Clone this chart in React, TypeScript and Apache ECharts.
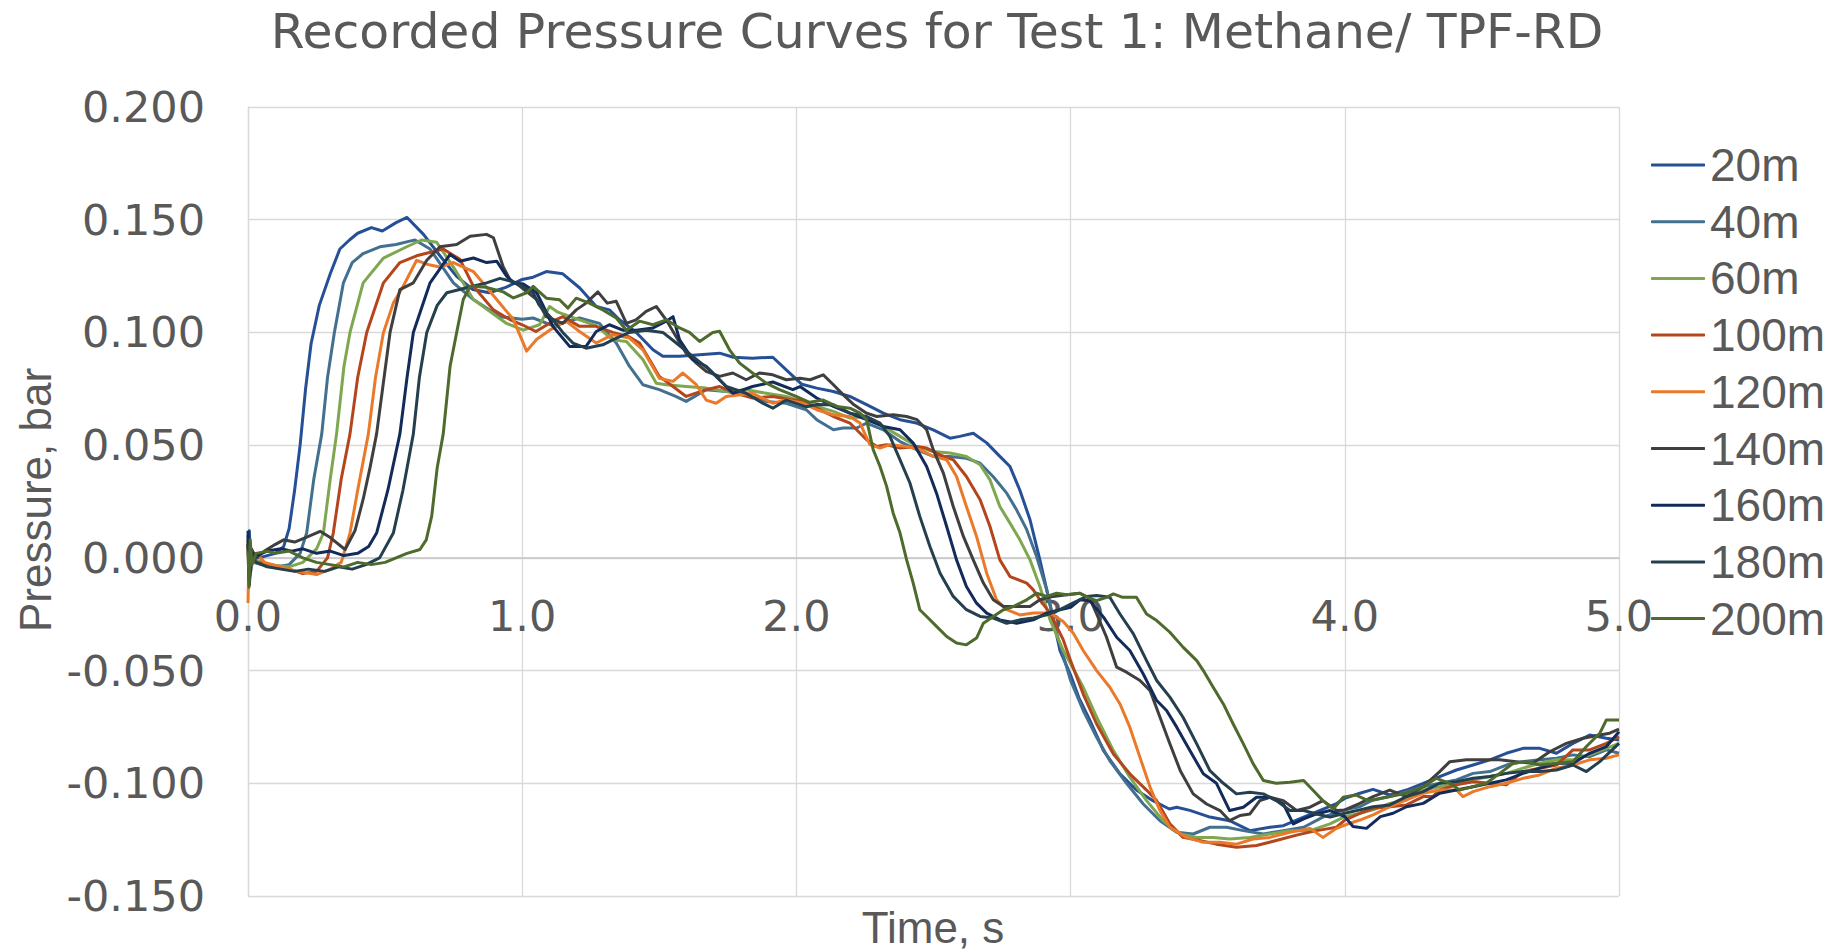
import React, { useEffect, useRef } from "react";
import * as echarts from "echarts";

const seriesNames = ["20m", "40m", "60m", "100m", "120m", "140m", "160m", "180m", "200m"];
const seriesColors = ["#255096", "#43708f", "#7ea74f", "#b4461e", "#ea7a2a", "#3f3f3f", "#132b5a", "#24404f", "#4e6a2c"];
const xTicks = { min: 0, max: 5, step: 1 };
const yTicks = { min: -0.15, max: 0.2, step: 0.05 };

const s20: [number, number][] = [[0,0.004],[0.005,0.012],[0.01,-0.006],[0.02,0.002],[0.04,0.0],[0.07,0.001],[0.1,0.002],[0.13,0.005],[0.15,0.013],[0.17,0.03],[0.19,0.05],[0.21,0.075],[0.23,0.095],[0.26,0.112],[0.3,0.126],[0.335,0.137],[0.37,0.141],[0.4,0.144],[0.45,0.1465],[0.49,0.145],[0.54,0.1487],[0.58,0.151],[0.64,0.1435],[0.7,0.134],[0.76,0.125],[0.82,0.119],[0.88,0.1176],[0.94,0.12],[1.0,0.1235],[1.04,0.1245],[1.088,0.127],[1.148,0.126],[1.21,0.1197],[1.27,0.1115],[1.318,0.110],[1.355,0.1056],[1.416,0.1],[1.477,0.0923],[1.513,0.0894],[1.574,0.0894],[1.635,0.090],[1.72,0.0908],[1.77,0.089],[1.84,0.0886],[1.914,0.089],[1.963,0.0834],[2.02,0.077],[2.074,0.0753],[2.135,0.0738],[2.195,0.0716],[2.256,0.068],[2.317,0.0642],[2.378,0.0613],[2.438,0.0598],[2.499,0.0568],[2.56,0.0531],[2.596,0.0539],[2.645,0.0553],[2.694,0.051],[2.742,0.045],[2.779,0.0405],[2.815,0.030],[2.852,0.0169],[2.888,-0.0009],[2.913,-0.0142],[2.937,-0.0275],[2.961,-0.041],[3.0,-0.052],[3.03,-0.062],[3.07,-0.072],[3.12,-0.0855],[3.18,-0.0958],[3.24,-0.103],[3.30,-0.1077],[3.36,-0.1114],[3.387,-0.1106],[3.435,-0.112],[3.508,-0.115],[3.58,-0.1166],[3.654,-0.121],[3.727,-0.1195],[3.776,-0.1188],[3.85,-0.115],[3.91,-0.112],[3.97,-0.109],[4.0,-0.1067],[4.055,-0.1044],[4.103,-0.1027],[4.164,-0.1052],[4.225,-0.103],[4.286,-0.1],[4.346,-0.097],[4.407,-0.0941],[4.468,-0.0919],[4.529,-0.0896],[4.589,-0.0867],[4.65,-0.0845],[4.711,-0.0845],[4.772,-0.0867],[4.832,-0.0823],[4.893,-0.0786],[4.954,-0.08],[5.0,-0.0808]];

const s40: [number, number][] = [[0,0.008],[0.005,-0.01],[0.012,0.003],[0.02,-0.002],[0.05,-0.003],[0.1,-0.004],[0.15,-0.003],[0.19,0.002],[0.214,0.011],[0.24,0.035],[0.269,0.055],[0.29,0.08],[0.315,0.1],[0.348,0.122],[0.38,0.131],[0.42,0.135],[0.481,0.138],[0.54,0.139],[0.59,0.1405],[0.609,0.141],[0.664,0.137],[0.749,0.122],[0.822,0.1146],[0.919,0.107],[1.0,0.1058],[1.04,0.1064],[1.112,0.103],[1.209,0.1064],[1.282,0.104],[1.343,0.0953],[1.391,0.085],[1.44,0.0768],[1.50,0.0746],[1.56,0.0716],[1.598,0.0694],[1.671,0.0746],[1.744,0.0738],[1.817,0.0723],[1.89,0.0694],[1.963,0.0686],[2.036,0.0657],[2.074,0.0613],[2.135,0.0568],[2.17,0.0576],[2.22,0.0576],[2.256,0.0598],[2.317,0.0568],[2.378,0.0516],[2.438,0.048],[2.499,0.045],[2.56,0.045],[2.62,0.0442],[2.67,0.042],[2.718,0.036],[2.767,0.0287],[2.803,0.0213],[2.84,0.0125],[2.876,0.0006],[2.913,-0.0142],[2.949,-0.0334],[3.0,-0.0544],[3.046,-0.0677],[3.095,-0.0796],[3.143,-0.090],[3.204,-0.100],[3.265,-0.1092],[3.326,-0.1166],[3.387,-0.1217],[3.447,-0.1225],[3.508,-0.1195],[3.569,-0.1195],[3.63,-0.121],[3.703,-0.1225],[3.776,-0.121],[3.85,-0.1195],[3.92,-0.115],[4.0,-0.1118],[4.055,-0.1104],[4.103,-0.1074],[4.164,-0.1059],[4.225,-0.1037],[4.286,-0.1015],[4.346,-0.1],[4.407,-0.0985],[4.468,-0.0956],[4.529,-0.0948],[4.589,-0.0919],[4.65,-0.0904],[4.711,-0.0896],[4.772,-0.0889],[4.832,-0.0874],[4.893,-0.0882],[4.954,-0.0852],[5.0,-0.0867]];

const s60: [number, number][] = [[0,0.006],[0.006,-0.009],[0.012,0.002],[0.03,-0.001],[0.08,-0.003],[0.15,-0.004],[0.2,-0.002],[0.25,0.004],[0.275,0.011],[0.3,0.035],[0.323,0.055],[0.35,0.085],[0.372,0.1],[0.42,0.122],[0.494,0.133],[0.579,0.138],[0.633,0.141],[0.688,0.14],[0.749,0.129],[0.822,0.1146],[0.943,0.104],[1.004,0.101],[1.063,0.1034],[1.10,0.1115],[1.13,0.109],[1.209,0.1056],[1.27,0.103],[1.33,0.0967],[1.38,0.096],[1.44,0.088],[1.489,0.0775],[1.525,0.0768],[1.598,0.076],[1.671,0.0753],[1.744,0.0738],[1.817,0.0746],[1.89,0.073],[1.963,0.0716],[2.024,0.0694],[2.074,0.0672],[2.135,0.065],[2.195,0.062],[2.256,0.0627],[2.317,0.0583],[2.378,0.0539],[2.438,0.0494],[2.499,0.0472],[2.56,0.0465],[2.62,0.045],[2.67,0.0413],[2.706,0.0346],[2.742,0.0228],[2.779,0.0154],[2.815,0.008],[2.852,-0.0009],[2.888,-0.0127],[2.925,-0.0275],[2.973,-0.041],[3.0,-0.047],[3.046,-0.0574],[3.095,-0.0707],[3.156,-0.0855],[3.216,-0.0973],[3.277,-0.1077],[3.338,-0.1166],[3.40,-0.1225],[3.46,-0.124],[3.52,-0.124],[3.58,-0.1247],[3.654,-0.124],[3.727,-0.1225],[3.80,-0.121],[3.873,-0.121],[3.946,-0.118],[4.0,-0.1148],[4.055,-0.1133],[4.103,-0.1118],[4.164,-0.1089],[4.225,-0.1074],[4.286,-0.103],[4.346,-0.1015],[4.407,-0.1],[4.468,-0.0985],[4.529,-0.097],[4.589,-0.0956],[4.65,-0.0933],[4.711,-0.0911],[4.772,-0.0896],[4.832,-0.0896],[4.893,-0.0874],[4.954,-0.0845],[5.0,-0.0823]];

const s100: [number, number][] = [[0,0.006],[0.004,-0.012],[0.01,0.003],[0.03,-0.002],[0.08,-0.003],[0.15,-0.005],[0.2,-0.007],[0.25,-0.006],[0.29,0.0],[0.311,0.011],[0.34,0.035],[0.372,0.055],[0.40,0.08],[0.433,0.1],[0.494,0.122],[0.554,0.131],[0.615,0.134],[0.712,0.137],[0.773,0.1324],[0.822,0.1205],[0.895,0.110],[0.955,0.1057],[1.0,0.1034],[1.05,0.1004],[1.112,0.105],[1.148,0.107],[1.209,0.1027],[1.27,0.1027],[1.33,0.1],[1.391,0.098],[1.428,0.0953],[1.464,0.088],[1.50,0.0805],[1.55,0.076],[1.598,0.0716],[1.671,0.0746],[1.72,0.076],[1.78,0.073],[1.84,0.0709],[1.914,0.0716],[1.987,0.070],[2.013,0.070],[2.074,0.0664],[2.135,0.0627],[2.195,0.0598],[2.256,0.0524],[2.293,0.0494],[2.329,0.0502],[2.378,0.0487],[2.438,0.0494],[2.475,0.0487],[2.524,0.0457],[2.572,0.0435],[2.62,0.0361],[2.67,0.0258],[2.706,0.0139],[2.742,-0.0009],[2.779,-0.0083],[2.84,-0.0112],[2.864,-0.0142],[2.888,-0.0186],[2.925,-0.0245],[2.973,-0.0363],[3.0,-0.0456],[3.046,-0.0604],[3.095,-0.0737],[3.156,-0.087],[3.216,-0.0958],[3.277,-0.103],[3.314,-0.1077],[3.362,-0.118],[3.41,-0.124],[3.47,-0.1254],[3.532,-0.127],[3.605,-0.1284],[3.678,-0.1276],[3.75,-0.1254],[3.824,-0.123],[3.897,-0.121],[3.97,-0.1195],[4.0,-0.1163],[4.055,-0.1133],[4.103,-0.1111],[4.164,-0.1104],[4.225,-0.1096],[4.286,-0.1059],[4.32,-0.1059],[4.346,-0.103],[4.407,-0.1007],[4.468,-0.0993],[4.529,-0.1],[4.589,-0.1007],[4.65,-0.0948],[4.711,-0.0933],[4.772,-0.0919],[4.832,-0.0852],[4.893,-0.0852],[4.954,-0.0823],[5.0,-0.0793]];

const s120: [number, number][] = [[0,-0.02],[0.004,0.004],[0.01,-0.004],[0.03,0.002],[0.06,-0.002],[0.12,-0.004],[0.18,-0.006],[0.25,-0.0074],[0.3,-0.005],[0.34,-0.002],[0.372,0.011],[0.40,0.03],[0.439,0.055],[0.465,0.08],[0.494,0.1],[0.53,0.113],[0.566,0.1205],[0.615,0.132],[0.66,0.13],[0.70,0.129],[0.749,0.131],[0.822,0.127],[0.907,0.1146],[0.968,0.1057],[1.016,0.0917],[1.053,0.097],[1.10,0.101],[1.16,0.105],[1.209,0.1004],[1.27,0.0953],[1.33,0.099],[1.391,0.0975],[1.44,0.0923],[1.50,0.0797],[1.55,0.0783],[1.586,0.082],[1.635,0.0768],[1.671,0.070],[1.707,0.0686],[1.744,0.0716],[1.84,0.073],[1.914,0.0686],[1.963,0.070],[2.024,0.0686],[2.074,0.0657],[2.135,0.0635],[2.195,0.0627],[2.232,0.0598],[2.268,0.0502],[2.305,0.0487],[2.341,0.0502],[2.402,0.0494],[2.45,0.048],[2.499,0.045],[2.548,0.0435],[2.584,0.0361],[2.62,0.0228],[2.657,0.0095],[2.694,-0.0068],[2.73,-0.0186],[2.767,-0.023],[2.815,-0.0253],[2.864,-0.0245],[2.925,-0.0245],[2.973,-0.0282],[3.01,-0.0334],[3.046,-0.0411],[3.095,-0.05],[3.143,-0.0574],[3.18,-0.0648],[3.216,-0.0751],[3.253,-0.0885],[3.29,-0.1018],[3.326,-0.1121],[3.362,-0.1195],[3.423,-0.124],[3.484,-0.1262],[3.545,-0.1262],[3.605,-0.127],[3.666,-0.1247],[3.727,-0.124],[3.80,-0.1217],[3.873,-0.12],[3.92,-0.124],[3.97,-0.12],[4.0,-0.1185],[4.055,-0.1163],[4.103,-0.114],[4.164,-0.1104],[4.225,-0.1074],[4.286,-0.1044],[4.346,-0.103],[4.407,-0.103],[4.431,-0.1059],[4.468,-0.1037],[4.529,-0.1015],[4.589,-0.1],[4.65,-0.0978],[4.711,-0.0963],[4.772,-0.0933],[4.832,-0.0919],[4.893,-0.0896],[4.954,-0.0889],[5.0,-0.0874]];

const s140: [number, number][] = [[0,0.01],[0.005,-0.008],[0.012,0.004],[0.03,0.0],[0.06,0.003],[0.1,0.006],[0.13,0.008],[0.17,0.007],[0.21,0.009],[0.263,0.0118],[0.3,0.009],[0.354,0.0037],[0.39,0.012],[0.42,0.026],[0.445,0.04],[0.469,0.055],[0.518,0.1],[0.554,0.119],[0.603,0.122],[0.652,0.132],[0.70,0.138],[0.761,0.139],[0.81,0.1427],[0.87,0.1435],[0.895,0.142],[0.931,0.129],[0.955,0.1235],[0.992,0.1205],[1.053,0.1146],[1.088,0.107],[1.148,0.104],[1.197,0.110],[1.233,0.113],[1.276,0.118],[1.31,0.113],[1.343,0.1138],[1.38,0.104],[1.415,0.1056],[1.452,0.1093],[1.489,0.1115],[1.525,0.1056],[1.562,0.098],[1.598,0.0908],[1.635,0.0864],[1.671,0.0827],[1.72,0.0805],[1.768,0.082],[1.817,0.079],[1.865,0.082],[1.914,0.0812],[1.963,0.079],[2.013,0.0797],[2.05,0.079],[2.098,0.0812],[2.135,0.0768],[2.171,0.0723],[2.21,0.0679],[2.256,0.0642],[2.293,0.0627],[2.353,0.0635],[2.402,0.0627],[2.44,0.0613],[2.475,0.0568],[2.499,0.048],[2.536,0.0376],[2.572,0.0228],[2.609,0.0095],[2.645,-0.0009],[2.682,-0.0112],[2.718,-0.0186],[2.755,-0.0216],[2.803,-0.0216],[2.852,-0.0216],[2.888,-0.0186],[2.937,-0.0171],[2.986,-0.0164],[3.034,-0.0157],[3.07,-0.018],[3.095,-0.0249],[3.131,-0.0352],[3.168,-0.0485],[3.204,-0.0507],[3.253,-0.0544],[3.29,-0.0589],[3.326,-0.0707],[3.362,-0.0825],[3.40,-0.0944],[3.447,-0.1047],[3.496,-0.1092],[3.545,-0.1121],[3.58,-0.1166],[3.618,-0.1143],[3.654,-0.1136],[3.69,-0.1077],[3.727,-0.1062],[3.776,-0.1077],[3.824,-0.1121],[3.873,-0.1106],[3.92,-0.1077],[3.97,-0.1121],[4.0,-0.1118],[4.055,-0.1089],[4.103,-0.1059],[4.164,-0.103],[4.225,-0.1059],[4.286,-0.1015],[4.346,-0.0948],[4.383,-0.0904],[4.444,-0.0896],[4.504,-0.0896],[4.565,-0.0896],[4.625,-0.0904],[4.686,-0.0911],[4.747,-0.086],[4.808,-0.0823],[4.869,-0.08],[4.93,-0.0786],[4.966,-0.0778],[5.0,-0.076]];

const s160: [number, number][] = [[0,0.012],[0.005,-0.01],[0.012,0.002],[0.03,0.001],[0.07,0.003],[0.12,0.004],[0.16,0.003],[0.2,0.004],[0.25,0.002],[0.3,0.003],[0.35,0.001],[0.4,0.002],[0.44,0.005],[0.469,0.011],[0.51,0.03],[0.554,0.055],[0.58,0.08],[0.603,0.1],[0.664,0.122],[0.737,0.1346],[0.773,0.1316],[0.822,0.133],[0.87,0.131],[0.907,0.1316],[0.943,0.125],[0.968,0.122],[1.004,0.1215],[1.053,0.1176],[1.08,0.111],[1.112,0.1027],[1.173,0.0938],[1.233,0.0938],[1.27,0.1004],[1.318,0.1034],[1.367,0.101],[1.416,0.101],[1.477,0.102],[1.525,0.105],[1.55,0.107],[1.574,0.0967],[1.622,0.088],[1.671,0.085],[1.72,0.079],[1.768,0.073],[1.84,0.076],[1.914,0.078],[1.987,0.0746],[2.013,0.076],[2.074,0.0709],[2.135,0.0672],[2.195,0.0642],[2.256,0.0613],[2.317,0.0583],[2.378,0.0568],[2.426,0.0509],[2.475,0.0405],[2.511,0.0287],[2.548,0.0139],[2.584,-0.0009],[2.62,-0.0127],[2.657,-0.0201],[2.694,-0.0245],[2.742,-0.0275],[2.803,-0.029],[2.864,-0.0275],[2.913,-0.0245],[2.961,-0.023],[3.0,-0.0219],[3.034,-0.0186],[3.07,-0.019],[3.12,-0.0263],[3.168,-0.0352],[3.216,-0.0411],[3.265,-0.0515],[3.314,-0.0633],[3.35,-0.0677],[3.387,-0.0751],[3.435,-0.0855],[3.484,-0.0958],[3.532,-0.100],[3.58,-0.1121],[3.63,-0.1106],[3.678,-0.1062],[3.727,-0.1062],[3.776,-0.1092],[3.812,-0.118],[3.85,-0.1158],[3.897,-0.1136],[3.946,-0.1121],[4.0,-0.1148],[4.03,-0.1192],[4.079,-0.12],[4.13,-0.1148],[4.176,-0.1133],[4.225,-0.1104],[4.286,-0.1089],[4.346,-0.1044],[4.407,-0.103],[4.468,-0.1015],[4.529,-0.1],[4.589,-0.0985],[4.65,-0.0956],[4.711,-0.0933],[4.772,-0.0911],[4.832,-0.0911],[4.893,-0.0867],[4.954,-0.0837],[5.0,-0.0771]];

const s180: [number, number][] = [[0,0.006],[0.005,-0.012],[0.012,0.001],[0.03,-0.002],[0.07,-0.004],[0.12,-0.005],[0.17,-0.006],[0.22,-0.005],[0.28,-0.006],[0.33,-0.004],[0.38,-0.005],[0.43,-0.003],[0.48,0.0],[0.53,0.011],[0.565,0.03],[0.603,0.055],[0.625,0.08],[0.652,0.1],[0.69,0.112],[0.725,0.1176],[0.797,0.1198],[0.87,0.122],[0.919,0.124],[0.98,0.122],[1.04,0.1176],[1.061,0.1123],[1.112,0.1056],[1.148,0.1],[1.185,0.0953],[1.233,0.093],[1.294,0.0945],[1.33,0.0967],[1.391,0.1],[1.452,0.101],[1.513,0.1],[1.562,0.0953],[1.622,0.0894],[1.683,0.0834],[1.744,0.076],[1.817,0.073],[1.877,0.0686],[1.914,0.0664],[1.963,0.070],[2.036,0.067],[2.074,0.068],[2.135,0.0679],[2.195,0.0642],[2.256,0.0627],[2.305,0.0598],[2.341,0.0539],[2.378,0.0435],[2.414,0.0332],[2.45,0.0184],[2.487,0.005],[2.524,-0.0068],[2.572,-0.0171],[2.62,-0.023],[2.67,-0.026],[2.718,-0.0267],[2.767,-0.029],[2.815,-0.0275],[2.864,-0.0267],[2.913,-0.0253],[2.961,-0.023],[3.01,-0.02],[3.059,-0.0171],[3.095,-0.0167],[3.143,-0.0175],[3.18,-0.0249],[3.229,-0.0337],[3.277,-0.0456],[3.314,-0.0544],[3.362,-0.0618],[3.41,-0.0707],[3.46,-0.0825],[3.508,-0.0944],[3.557,-0.100],[3.605,-0.1047],[3.654,-0.104],[3.703,-0.1047],[3.75,-0.1077],[3.80,-0.1121],[3.85,-0.1121],[3.897,-0.1136],[3.946,-0.115],[4.0,-0.1133],[4.055,-0.1118],[4.103,-0.1104],[4.164,-0.1096],[4.225,-0.1059],[4.286,-0.1037],[4.346,-0.1],[4.407,-0.0993],[4.468,-0.0978],[4.529,-0.097],[4.589,-0.0956],[4.65,-0.0948],[4.711,-0.0948],[4.772,-0.0941],[4.832,-0.0919],[4.881,-0.0948],[4.93,-0.0904],[5.0,-0.0823]];

const s200: [number, number][] = [[0,0.003],[0.004,-0.013],[0.008,0.008],[0.014,-0.003],[0.03,0.002],[0.07,0.003],[0.1,0.002],[0.15,0.003],[0.2,0.0],[0.25,-0.002],[0.3,-0.003],[0.35,-0.004],[0.4,-0.002],[0.45,-0.003],[0.5,-0.002],[0.54,0.0],[0.58,0.002],[0.627,0.0037],[0.65,0.008],[0.67,0.0185],[0.69,0.04],[0.712,0.055],[0.737,0.085],[0.761,0.1],[0.785,0.1146],[0.81,0.1205],[0.87,0.12],[0.931,0.118],[0.968,0.1153],[1.016,0.1176],[1.04,0.1204],[1.088,0.1152],[1.136,0.1145],[1.167,0.1108],[1.197,0.1152],[1.245,0.113],[1.294,0.110],[1.343,0.1064],[1.38,0.101],[1.428,0.105],[1.477,0.1034],[1.525,0.1056],[1.574,0.102],[1.61,0.1],[1.647,0.096],[1.695,0.1],[1.72,0.1005],[1.756,0.0923],[1.793,0.0864],[1.84,0.082],[1.89,0.0775],[1.938,0.0746],[1.999,0.0716],[2.048,0.069],[2.098,0.070],[2.147,0.0672],[2.195,0.0664],[2.232,0.0642],[2.256,0.0613],[2.28,0.048],[2.305,0.0405],[2.329,0.0317],[2.353,0.0198],[2.378,0.011],[2.402,-0.0009],[2.426,-0.0112],[2.45,-0.023],[2.475,-0.026],[2.511,-0.0304],[2.548,-0.0349],[2.584,-0.0378],[2.62,-0.0386],[2.657,-0.0356],[2.682,-0.029],[2.718,-0.026],[2.755,-0.023],[2.791,-0.0216],[2.84,-0.0186],[2.876,-0.0157],[2.913,-0.0171],[2.949,-0.0157],[2.986,-0.0164],[3.034,-0.0157],[3.07,-0.018],[3.095,-0.019],[3.131,-0.0175],[3.156,-0.016],[3.19,-0.0175],[3.24,-0.0175],[3.277,-0.0249],[3.314,-0.0278],[3.362,-0.033],[3.41,-0.0396],[3.46,-0.0456],[3.484,-0.05],[3.52,-0.0574],[3.557,-0.0648],[3.593,-0.0737],[3.63,-0.0825],[3.666,-0.0914],[3.703,-0.0988],[3.75,-0.100],[3.8,-0.0995],[3.85,-0.0988],[3.885,-0.1032],[3.92,-0.1077],[3.958,-0.1114],[3.994,-0.1062],[4.04,-0.1052],[4.079,-0.1074],[4.103,-0.1074],[4.164,-0.1059],[4.225,-0.1044],[4.286,-0.1015],[4.334,-0.0978],[4.383,-0.1],[4.419,-0.103],[4.468,-0.1015],[4.516,-0.1],[4.565,-0.0956],[4.614,-0.0911],[4.662,-0.0904],[4.711,-0.0919],[4.772,-0.0911],[4.832,-0.0904],[4.881,-0.0837],[4.93,-0.0778],[4.954,-0.0719],[5.0,-0.0719]];

const seriesData = [s20, s40, s60, s100, s120, s140, s160, s180, s200];

const titleText = "Recorded Pressure Curves for Test 1: Methane/ TPF-RD";
const xTitle = "Time, s";
const yTitle = "Pressure, bar";

const TEXT = "#595959";
const GRID = "#d9d9d9";

const GRID_TOP = 107;
const GRID_H = 789;
// distance from the grid bottom up to the y = 0 line, so the x axis sits on zero
const ZERO_OFFSET = -(GRID_H * (0 - yTicks.min)) / (yTicks.max - yTicks.min);

export default function App() {
  const ref = useRef<HTMLDivElement>(null);
  useEffect(() => {
    if (!ref.current) return;
    const chart = echarts.init(ref.current, undefined, { renderer: "svg" });
    const option: any = {
      animation: false,
      backgroundColor: "#ffffff",
      grid: { left: 248, top: GRID_TOP, width: 1371, height: GRID_H, containLabel: false, outerBoundsMode: "none" },
      xAxis: {
        type: "value",
        min: xTicks.min,
        max: xTicks.max,
        interval: xTicks.step,
        position: "bottom",
        offset: ZERO_OFFSET,
        axisLine: { show: true, onZero: false, lineStyle: { color: "#c4c4c4", width: 1.5 } },
        axisTick: { show: false },
        axisLabel: {
          formatter: (v: number) => v.toFixed(1),
          fontFamily: "DejaVu Sans",
          fontSize: 43,
          color: TEXT,
          margin: 58,
          verticalAlign: "middle",
        },
        splitLine: { show: true, lineStyle: { color: GRID, width: 1.3 } },
      },
      yAxis: {
        type: "value",
        min: yTicks.min,
        max: yTicks.max,
        interval: yTicks.step,
        axisLine: { show: true, onZero: false, lineStyle: { color: GRID, width: 1.3 } },
        axisTick: { show: false },
        axisLabel: {
          formatter: (v: number) => (Math.abs(v) < 1e-9 ? 0 : v).toFixed(3),
          fontFamily: "DejaVu Sans",
          fontSize: 43,
          color: TEXT,
          margin: 43,
        },
        splitLine: { show: true, lineStyle: { color: GRID, width: 1.3 } },
      },
      legend: {
        orient: "vertical",
        left: 1651,
        top: 142,
        itemWidth: 54,
        itemHeight: 3,
        itemGap: 10.7,
        padding: 0,
        icon: "roundRect",
        data: seriesNames,
        textStyle: { fontFamily: "Liberation Sans", fontSize: 46, lineHeight: 46, color: TEXT },
      },
      graphic: [
        {
          type: "text",
          x: 937,
          y: 31.5,
          style: { text: titleText, fontFamily: "DejaVu Sans", fontSize: 48.8, fill: TEXT, align: "center", verticalAlign: "middle" },
        },
        {
          type: "text",
          x: 933,
          y: 927.5,
          style: { text: xTitle, fontFamily: "Liberation Sans", fontSize: 44, fill: TEXT, align: "center", verticalAlign: "middle" },
        },
        {
          type: "text",
          x: 35,
          y: 500,
          rotation: Math.PI / 2,
          style: { text: yTitle, fontFamily: "Liberation Sans", fontSize: 44, fill: TEXT, align: "center", verticalAlign: "middle" },
        },
      ],
      series: seriesNames.map((name, i) => ({
        name,
        type: "line",
        data: seriesData[i],
        symbol: "none",
        showSymbol: false,
        smooth: false,
        color: seriesColors[i],
        lineStyle: { width: 3, color: seriesColors[i], join: "round" },
        itemStyle: { color: seriesColors[i] },
        emphasis: { disabled: true },
      })),
    };
    chart.setOption(option);
    return () => chart.dispose();
  }, []);
  return (
    <div
      ref={ref}
      style={{ position: "absolute", left: 0, top: 0, width: 1842, height: 952, background: "#ffffff" }}
    />
  );
}
